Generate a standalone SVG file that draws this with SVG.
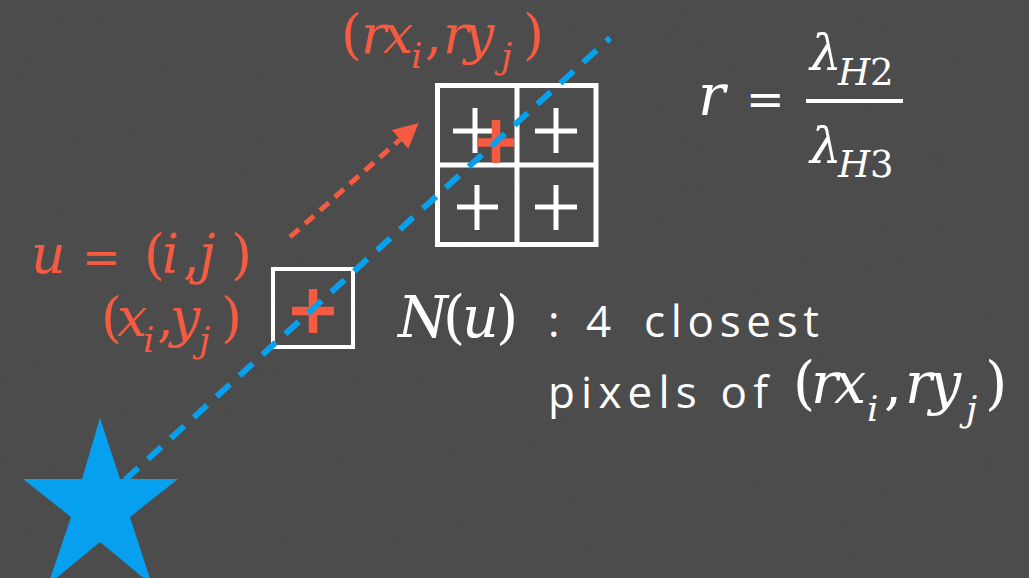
<svg xmlns="http://www.w3.org/2000/svg" width="1029" height="578" viewBox="0 0 1029 578">
  <style>
    .m { font-size: 54px; }
    .big { font-size: 57px; }
    .it { font-style: italic; }
    .sub { font-size: 36px; font-style: italic; }
    .eq { font-size: 46px; }
    .red { fill: #f55b41; }
    .wht { fill: #ffffff; }
    .hand { font-size: 44px; fill: #ffffff; }
    .cell { fill: none; stroke: #ffffff; stroke-width: 5; }
    .wplus { stroke: #ffffff; stroke-width: 5; fill: none; }
    .rplus { stroke: #f55b41; stroke-width: 8.5; fill: none; }
    .ray { stroke: #07a0ef; stroke-width: 6; stroke-dasharray: 18 13; fill: none; }
    .map { stroke: #f55b41; stroke-width: 5; stroke-dasharray: 12 8; fill: none; }
  </style>
  <defs>
    <filter id="grain" x="0" y="0" width="100%" height="100%">
      <feTurbulence type="fractalNoise" baseFrequency="0.9" numOctaves="2" seed="3"/>
      <feColorMatrix type="matrix" values="0 0 0 0 1  0 0 0 0 1  0 0 0 0 1  0.5 0 0 0 -0.2"/>
    </filter>
    <marker id="ah" markerUnits="userSpaceOnUse" markerWidth="26" markerHeight="26" refX="0" refY="12.5" orient="auto">
      <path d="M0,0 L25,12.5 L0,25 Z" fill="#f55b41"/>
    </marker>
  </defs>

  <rect width="1029" height="578" fill="#4b4b4b"/>
  <rect width="1029" height="578" filter="url(#grain)" opacity="0.12"/>

  <g id="grid">
    <rect class="cell" x="437.5" y="85.5" width="158.5" height="159"/>
    <line class="cell" x1="517" y1="85.5" x2="517" y2="244.5"/>
    <line class="cell" x1="437.5" y1="165" x2="596" y2="165"/>
    <path class="wplus" d="M453,131 H497 M475,108 V153 M535,131 H577 M556,108 V153 M457,207 H498 M477,185 V230 M535,207 H577 M556,185 V230"/>
    <path class="rplus" d="M477,142.5 H514 M496,120 V163"/>
  </g>

  <g id="pixel-u">
    <rect x="273" y="269" width="80" height="78" fill="none" stroke="#ffffff" stroke-width="4"/>
    <path class="rplus" d="M292,311 H334 M313,289 V333"/>
  </g>

  <g id="connectors">
    <line class="map" x1="290" y1="237" x2="400" y2="139.5" marker-end="url(#ah)"/>
    <line class="ray" x1="125" y1="480" x2="610" y2="38"/>
  </g>

  <g id="star">
    <polygon points="100,418 120,479 178,479 130,517 152,585 100,542 48,585 71,517 23,479 82,479" fill="#07a0ef"/>
  </g>

  <g id="label-rxy-top">
    <text class="m red" y="53" font-family="DejaVu Serif"><tspan x="341">(</tspan><tspan class="it" x="361">r</tspan><tspan class="it" x="383">x</tspan><tspan class="sub" x="411" y="68">i</tspan><tspan x="425" y="53">,</tspan><tspan class="it" x="443">r</tspan><tspan class="it" x="464">y</tspan><tspan class="sub" x="501" y="68">j</tspan><tspan x="523" y="53">)</tspan></text>
  </g>

  <g id="label-u">
    <text class="m red" y="273" font-family="DejaVu Serif"><tspan class="it" x="31">u</tspan><tspan class="eq" x="82">=</tspan><tspan x="144">(</tspan><tspan class="it" x="162">i</tspan><tspan x="183">,</tspan><tspan class="it" x="199">j</tspan><tspan x="231">)</tspan></text>
  </g>

  <g id="label-xy">
    <text class="m red" y="336" font-family="DejaVu Serif"><tspan x="101">(</tspan><tspan class="it" x="117">x</tspan><tspan class="sub" x="143" y="352">i</tspan><tspan x="157" y="336">,</tspan><tspan class="it" x="170">y</tspan><tspan class="sub" x="199" y="352">j</tspan><tspan x="221" y="336">)</tspan></text>
  </g>

  <g id="label-N">
    <text class="m big wht" y="337" font-family="DejaVu Serif"><tspan class="it" x="398">N</tspan><tspan x="443">(</tspan><tspan class="it" x="462">u</tspan><tspan x="496">)</tspan></text>
  </g>

  <g id="label-closest">
    <text class="hand" x="548" y="337" font-family="Open Sans">:</text>
    <text class="hand" x="586" y="337" font-family="Open Sans">4</text>
    <text class="hand" x="644" y="337" font-family="Open Sans" textLength="175" lengthAdjust="spacing">closest</text>
    <text class="hand" x="548" y="408" font-family="Open Sans" textLength="220" lengthAdjust="spacing">pixels of</text>
  </g>

  <g id="label-rxy-bottom">
    <text class="m big wht" y="403" font-family="DejaVu Serif"><tspan x="793">(</tspan><tspan class="it" x="811">r</tspan><tspan class="it" x="834">x</tspan><tspan class="sub" x="867" y="421" font-size="38">i</tspan><tspan x="884" y="403">,</tspan><tspan class="it" x="905">r</tspan><tspan class="it" x="929">y</tspan><tspan class="sub" x="966" y="421" font-size="38">j</tspan><tspan x="985" y="403">)</tspan></text>
  </g>

  <g id="formula-r">
    <text class="m big wht" y="115" font-family="DejaVu Serif"><tspan class="it" x="698">r</tspan><tspan class="eq" x="746">=</tspan></text>
    <line x1="806" y1="101" x2="903" y2="101" stroke="#ffffff" stroke-width="4"/>
    <text class="m wht" y="70" font-family="DejaVu Serif"><tspan class="it" x="810" font-size="50">λ</tspan><tspan class="it" x="838" y="85" font-size="37">H</tspan><tspan x="870" y="85" font-size="37">2</tspan></text>
    <text class="m wht" y="163" font-family="DejaVu Serif"><tspan class="it" x="810" font-size="50">λ</tspan><tspan class="it" x="838" y="177" font-size="37">H</tspan><tspan x="870" y="177" font-size="37">3</tspan></text>
  </g>
</svg>
